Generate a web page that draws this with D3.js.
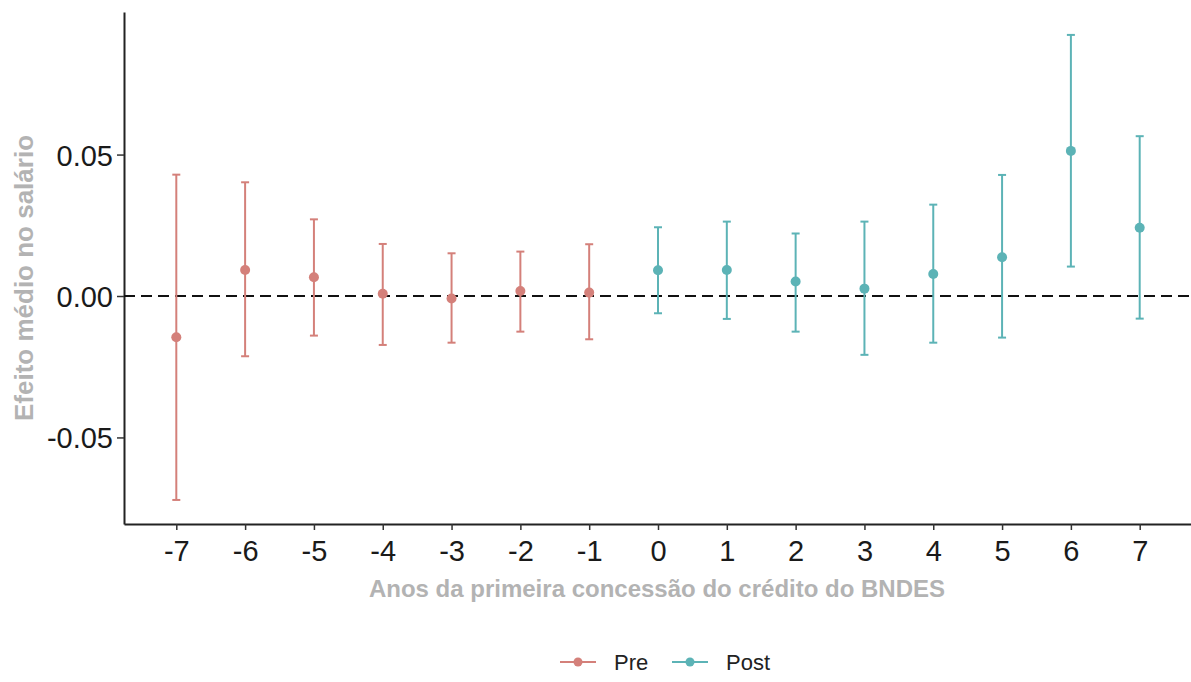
<!DOCTYPE html>
<html>
<head>
<meta charset="utf-8">
<script src="https://cdn.jsdelivr.net/npm/d3@7"></script>
<style>
  body { margin: 0; background: #fff; }
  text { font-family: "Liberation Sans", Arial, sans-serif; }
</style>
</head>
<body>
<div id="chart"></div>
<script>
const WIDTH = 1191;
const HEIGHT = 682;

// years relative to first BNDES credit
const years = [-7, -6, -5, -4, -3, -2, -1, 0, 1, 2, 3, 4, 5, 6, 7];
const periods = ['Pre', 'Pre', 'Pre', 'Pre', 'Pre', 'Pre', 'Pre',
  'Post', 'Post', 'Post', 'Post', 'Post', 'Post', 'Post', 'Post'];
const estimates = [-0.0146, 0.0092, 0.0066, 0.0008, -0.0009, 0.0018, 0.0012,
  0.0091, 0.0092, 0.0051, 0.0026, 0.0078, 0.0137, 0.0513, 0.0241];
const lower = [-0.0721, -0.0213, -0.0140, -0.0173, -0.0165, -0.0126, -0.0153,
  -0.0061, -0.0081, -0.0126, -0.0208, -0.0165, -0.0147, 0.0104, -0.0080];
const upper = [0.0429, 0.0402, 0.0271, 0.0184, 0.0151, 0.0157, 0.0183,
  0.0243, 0.0263, 0.0221, 0.0263, 0.0323, 0.0428, 0.0923, 0.0565];
const yTicks = [-0.05, 0, 0.05];
const legendLabels = ['Pre', 'Post'];

const colors = { Pre: '#d4807a', Post: '#5cb3b6' };

const points = years.map((yr, i) => ({
  year: yr, period: periods[i], est: estimates[i], lo: lower[i], hi: upper[i]
}));

const svg = d3.select('#chart').append('svg')
  .attr('width', WIDTH)
  .attr('height', HEIGHT);

const xScale = d3.scaleLinear()
  .domain([-7.76, 7.76])
  .range([124, 1192]);

const yScale = d3.scaleLinear()
  .domain([-0.0806, 0.1004])
  .range([524, 12]);

// axes
const xAxis = svg.append('g')
  .attr('transform', `translate(0,${yScale.range()[0]})`)
  .call(d3.axisBottom(xScale)
    .tickValues(years)
    .tickFormat(d => String(d))
    .tickSize(6)
    .tickSizeOuter(0)
    .tickPadding(10));

const yAxis = svg.append('g')
  .attr('transform', `translate(${xScale.range()[0]},0)`)
  .call(d3.axisLeft(yScale)
    .tickValues(yTicks)
    .tickFormat(d => d.toFixed(2))
    .tickSize(7)
    .tickSizeOuter(0)
    .tickPadding(4));

[xAxis, yAxis].forEach(ax => {
  ax.select('.domain').attr('stroke', '#222').attr('stroke-width', 2);
  ax.selectAll('.tick line').attr('stroke', '#333').attr('stroke-width', 1.5);
  ax.selectAll('.tick text')
    .attr('fill', '#1a1a1a')
    .style('font-size', '29px');
});
yAxis.selectAll('.tick text').attr('dy', '0.36em');

// zero reference line
svg.append('line')
  .attr('x1', xScale.range()[0])
  .attr('x2', WIDTH)
  .attr('y1', yScale(0))
  .attr('y2', yScale(0))
  .attr('stroke', '#111')
  .attr('stroke-width', 2)
  .attr('stroke-dasharray', '11,6');

// error bars
const bars = svg.append('g').attr('id', 'errorbars');
const CAP = 4;
bars.selectAll('line.stem')
  .data(points)
  .enter()
  .append('line')
  .attr('class', 'stem')
  .attr('x1', d => xScale(d.year))
  .attr('x2', d => xScale(d.year))
  .attr('y1', d => yScale(d.lo))
  .attr('y2', d => yScale(d.hi))
  .attr('stroke', d => colors[d.period])
  .attr('stroke-width', 2);

['lo', 'hi'].forEach(k => {
  bars.selectAll(`line.cap-${k}`)
    .data(points)
    .enter()
    .append('line')
    .attr('class', `cap-${k}`)
    .attr('x1', d => xScale(d.year) - CAP)
    .attr('x2', d => xScale(d.year) + CAP)
    .attr('y1', d => yScale(d[k]))
    .attr('y2', d => yScale(d[k]))
    .attr('stroke', d => colors[d.period])
    .attr('stroke-width', 2);
});

// point estimates
svg.append('g').attr('id', 'points')
  .selectAll('circle')
  .data(points)
  .enter()
  .append('circle')
  .attr('cx', d => xScale(d.year))
  .attr('cy', d => yScale(d.est))
  .attr('r', 5)
  .attr('fill', d => colors[d.period]);

// axis titles
svg.append('text')
  .attr('x', 657)
  .attr('y', 597)
  .attr('text-anchor', 'middle')
  .attr('fill', '#b3b3b3')
  .style('font-size', '24px')
  .style('font-weight', 'bold')
  .text('Anos da primeira concessão do crédito do BNDES');

svg.append('text')
  .attr('transform', 'translate(33,278) rotate(-90)')
  .attr('text-anchor', 'middle')
  .attr('fill', '#b3b3b3')
  .style('font-size', '26px')
  .style('font-weight', 'bold')
  .text('Efeito médio no salário');

// legend
const legendX = [560, 672];
const legend = svg.append('g').attr('id', 'legend');
legendLabels.forEach((lab, i) => {
  const g = legend.append('g').attr('transform', `translate(${legendX[i]},662)`);
  g.append('line')
    .attr('x1', 0).attr('x2', 36)
    .attr('stroke', colors[lab]).attr('stroke-width', 2);
  g.append('circle')
    .attr('cx', 18).attr('r', 4.5)
    .attr('fill', colors[lab]);
  g.append('text')
    .attr('x', 54)
    .attr('dy', '0.36em')
    .attr('fill', '#222')
    .style('font-size', '22px')
    .text(lab);
});
</script>
</body>
</html>
